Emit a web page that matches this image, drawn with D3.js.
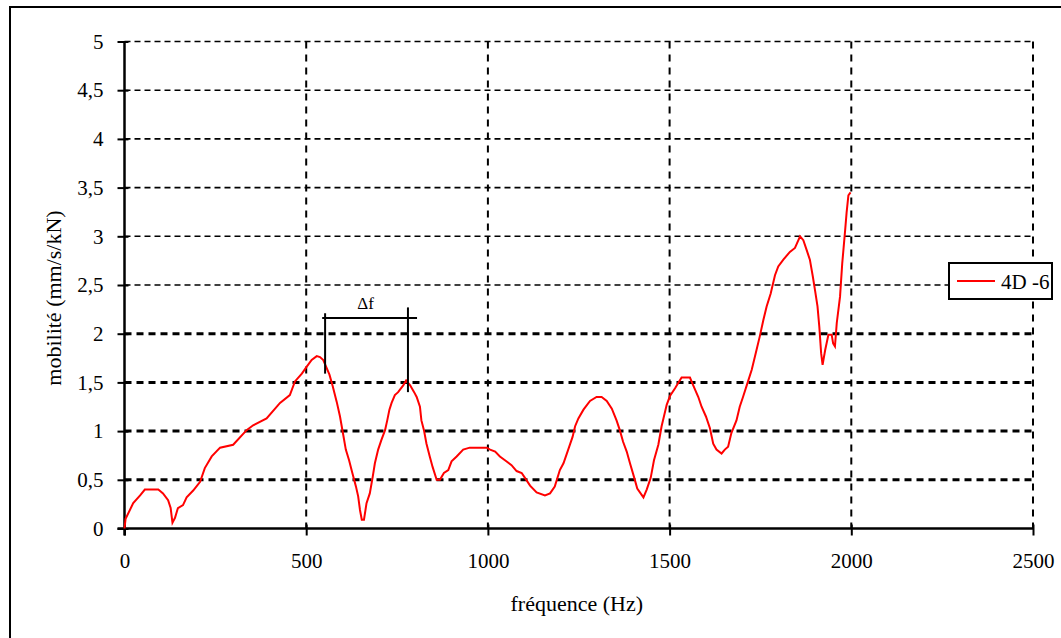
<!DOCTYPE html>
<html>
<head>
<meta charset="utf-8">
<script src="https://cdn.jsdelivr.net/npm/d3@7"></script>
<style>
  body { margin: 0; background: #fff; }
  svg { display: block; }
  text { font-family: "Liberation Serif", "Times New Roman", serif; fill: #000; }
</style>
</head>
<body>
<svg id="chart" width="1061" height="638"></svg>
<script>
let freq = [0, 3, 24, 43, 56, 93, 106, 120, 127, 132, 139, 147, 161, 171, 189, 208, 221, 240, 263, 299,
  336, 354, 391, 428, 455, 469, 488, 501, 515, 529, 538, 547, 564, 573, 584, 593, 602, 609, 618, 627,
  637, 643, 648, 653, 659, 666, 675, 683, 689, 698, 707, 717, 723, 729, 735, 744, 753, 767, 775, 786,
  797, 804, 813, 817, 824, 831, 840, 848, 859, 868, 879, 891, 900, 914, 932, 950, 997, 1006, 1020, 1033,
  1047, 1065, 1079, 1093, 1102, 1116, 1134, 1157, 1171, 1184, 1198, 1208, 1221, 1233, 1240, 1249, 1263, 1281, 1299, 1313,
  1327, 1341, 1354, 1363, 1372, 1382, 1391, 1402, 1411, 1428, 1437, 1448, 1457, 1469, 1478, 1492, 1501, 1515, 1533, 1556,
  1565, 1579, 1588, 1600, 1611, 1620, 1629, 1643, 1652, 1661, 1670, 1684, 1693, 1702, 1714, 1726, 1737, 1748, 1758, 1767,
  1778, 1790, 1799, 1813, 1831, 1845, 1859, 1868, 1877, 1886, 1894, 1900, 1907, 1912, 1917, 1921, 1928, 1937, 1946, 1950,
  1955, 1960, 1969, 1975, 1983, 1987, 1992, 1998];
let mobility = [0, 0.1, 0.26, 0.34, 0.4, 0.4, 0.36, 0.29, 0.21, 0.06, 0.11, 0.21, 0.24, 0.32, 0.39, 0.48, 0.62, 0.74, 0.83, 0.86,
  1.01, 1.06, 1.13, 1.29, 1.37, 1.51, 1.59, 1.66, 1.73, 1.77, 1.76, 1.73, 1.58, 1.46, 1.30, 1.15, 0.96, 0.81, 0.70, 0.57,
  0.43, 0.33, 0.19, 0.09, 0.09, 0.26, 0.36, 0.53, 0.67, 0.81, 0.91, 1.01, 1.11, 1.22, 1.29, 1.37, 1.40, 1.47, 1.52, 1.47,
  1.40, 1.35, 1.25, 1.11, 1.01, 0.87, 0.74, 0.63, 0.50, 0.50, 0.57, 0.60, 0.69, 0.74, 0.81, 0.83, 0.83, 0.81, 0.79, 0.74,
  0.70, 0.65, 0.59, 0.57, 0.52, 0.44, 0.37, 0.34, 0.36, 0.43, 0.60, 0.67, 0.81, 0.94, 1.05, 1.13, 1.22, 1.31, 1.35, 1.35,
  1.31, 1.23, 1.11, 1.01, 0.89, 0.79, 0.67, 0.53, 0.41, 0.32, 0.40, 0.52, 0.70, 0.86, 1.05, 1.27, 1.36, 1.44, 1.55, 1.55,
  1.47, 1.35, 1.25, 1.15, 1.03, 0.87, 0.81, 0.77, 0.81, 0.84, 0.98, 1.11, 1.25, 1.35, 1.49, 1.63, 1.80, 1.97, 2.14, 2.28,
  2.41, 2.60, 2.69, 2.76, 2.84, 2.88, 3.00, 2.96, 2.86, 2.76, 2.59, 2.45, 2.28, 2.07, 1.80, 1.68, 1.83, 1.99, 1.99, 1.90,
  1.87, 2.11, 2.38, 2.72, 3.06, 3.24, 3.42, 3.45];

let xTicks = [0, 500, 1000, 1500, 2000, 2500];
let yTicks = [0, 0.5, 1, 1.5, 2, 2.5, 3, 3.5, 4, 4.5, 5];
let seriesName = "4D -6";

// delta-f marker: two peaks and the bar between them
let deltaLeft = {f: 552, top: 2.21, bottom: 1.59};
let deltaRight = {f: 780, top: 2.27, bottom: 1.40};
let deltaBar = {f0: 544, f1: 805, v: 2.16};

function fmt(v) { return String(v).replace(".", ","); }

let svg = d3.select("#chart");

// outer frame (right and bottom edges fall outside the picture)
svg.append("rect")
  .attr("x", 10).attr("y", 7).attr("width", 1070).attr("height", 650)
  .attr("fill", "#fff").attr("stroke", "#000").attr("stroke-width", 2);

let x = d3.scaleLinear().domain([0, 2500]).range([124.5, 1033]);
let y = d3.scaleLinear().domain([0, 5]).range([528.5, 41.5]);

// horizontal grid: the lower ones are drawn heavier in the original
svg.append("g").selectAll("line")
  .data(yTicks.filter(d => d > 0))
  .enter().append("line")
    .attr("x1", x(0)).attr("x2", x(2500))
    .attr("y1", d => y(d)).attr("y2", d => y(d))
    .attr("stroke", "#000")
    .attr("stroke-width", d => d <= 2 ? 3 : 1.6)
    .attr("stroke-dasharray", d => d <= 2 ? "7,5" : "6,4");

// vertical grid
svg.append("g").selectAll("line")
  .data(xTicks.filter(d => d > 0))
  .enter().append("line")
    .attr("x1", d => x(d)).attr("x2", d => x(d))
    .attr("y1", y(5)).attr("y2", y(0))
    .attr("stroke", "#000").attr("stroke-width", 2)
    .attr("stroke-dasharray", "7,6");

// axes
let yAxis = d3.axisLeft(y).tickValues(yTicks).tickFormat(fmt).tickSizeInner(7).tickSizeOuter(0).tickPadding(14);
let gy = svg.append("g").attr("transform", "translate(" + x(0) + ",0)").call(yAxis);
let xAxis = d3.axisBottom(x).tickValues(xTicks).tickFormat(d => d).tickSizeInner(7).tickSizeOuter(0).tickPadding(18);
let gx = svg.append("g").attr("transform", "translate(0," + y(0) + ")").call(xAxis);

[gx, gy].forEach(function(g) {
  g.select(".domain").attr("stroke", "#000").attr("stroke-width", 2.5);
  g.selectAll(".tick line").attr("stroke", "#000").attr("stroke-width", 2);
  g.selectAll("text")
    .style("font-family", "'Liberation Serif', serif")
    .style("font-size", "21px")
    .attr("fill", "#000");
});
gy.selectAll(".tick line").attr("x2", -7).attr("x1", 4);
gx.selectAll(".tick line").attr("y1", -4).attr("y2", 7);
gy.select(".domain").attr("d", "M0," + y(5) + "V" + (y(0) + 7));
gx.select(".domain").attr("d", "M" + (x(0) - 7) + ",0H" + x(2500));

// the curve
let pts = freq.map((f, i) => [f, mobility[i]]);
let line = d3.line().x(d => x(d[0])).y(d => y(d[1]));
svg.append("path")
  .datum(pts)
  .attr("d", line)
  .attr("fill", "none")
  .attr("stroke", "#ff0000")
  .attr("stroke-width", 2)
  .attr("stroke-linejoin", "miter");

// delta-f annotation
let ann = svg.append("g").attr("stroke", "#000").attr("stroke-width", 2);
[deltaLeft, deltaRight].forEach(function(d) {
  ann.append("line")
    .attr("x1", x(d.f)).attr("x2", x(d.f))
    .attr("y1", y(d.top)).attr("y2", y(d.bottom));
});
ann.append("line")
  .attr("x1", x(deltaBar.f0)).attr("x2", x(deltaBar.f1))
  .attr("y1", y(deltaBar.v)).attr("y2", y(deltaBar.v));
svg.append("text")
  .attr("x", x((deltaLeft.f + deltaRight.f) / 2) - 1)
  .attr("y", y(deltaBar.v) - 9)
  .attr("text-anchor", "middle")
  .style("font-size", "17px")
  .text("Δf");

// axis titles
svg.append("text")
  .attr("x", (x(0) + x(2500)) / 2 - 2)
  .attr("y", 611)
  .attr("text-anchor", "middle")
  .style("font-size", "22px")
  .text("fréquence (Hz)");
svg.append("text")
  .attr("transform", "translate(61,298) rotate(-90)")
  .attr("text-anchor", "middle")
  .style("font-size", "22px")
  .text("mobilité (mm/s/kN)");

// legend
let lg = svg.append("g").attr("transform", "translate(949,263)");
lg.append("rect")
  .attr("width", 103).attr("height", 36)
  .attr("fill", "#fff").attr("stroke", "#000").attr("stroke-width", 2);
lg.append("line")
  .attr("x1", 8).attr("x2", 46).attr("y1", 18).attr("y2", 18)
  .attr("stroke", "#ff0000").attr("stroke-width", 2);
lg.append("text")
  .attr("x", 52).attr("y", 26)
  .style("font-size", "21px")
  .text(seriesName);
</script>
</body>
</html>
